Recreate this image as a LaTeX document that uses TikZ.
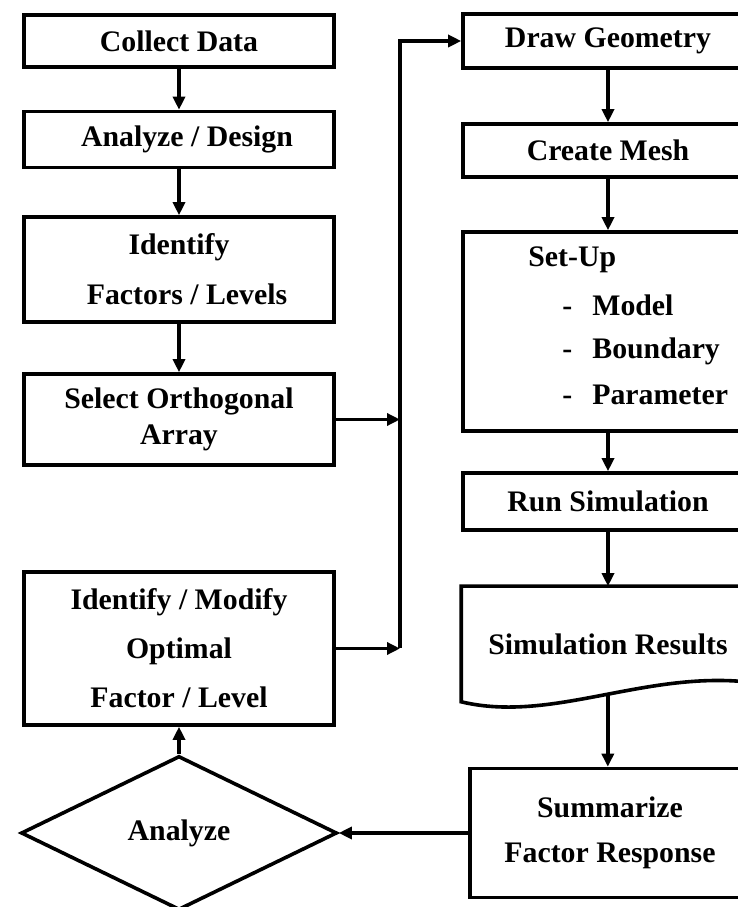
\documentclass[tikz,border=0pt]{standalone}
\usepackage{fontspec}
\setmainfont{Liberation Serif}
\usetikzlibrary{arrows.meta,shapes.geometric}
\tikzset{
  stepbox/.style={draw, line width=1.8pt, font=\bfseries\fontsize{14.9}{18}\selectfont,
                  align=center, inner sep=0pt},
  leftbox/.style={stepbox, minimum width=155pt},
  rightbox/.style={stepbox, minimum width=145pt},
  decision/.style={stepbox, diamond, minimum width=158pt, minimum height=77pt},
  itemtext/.style={font=\bfseries\fontsize{14.9}{18}\selectfont, inner sep=0pt, anchor=west},
  flow/.style={line width=1.8pt, -{Triangle[length=6.5pt,width=6pt]}},
}

\begin{document}
\begin{tikzpicture}[x=0.5pt, y=0.5pt]
    \useasboundingbox (0,0) rectangle (738,907);
    \node[leftbox, minimum height=26pt] (collect) at (179, 866) {Collect Data};
    \node[leftbox, minimum height=28pt] (design) at (179, 767.5) {\hspace{8pt}Analyze / Design};
    \node[leftbox, minimum height=52.5pt] (factors) at (179, 637.5) {Identify\\[7pt]\hspace{8pt}Factors / Levels};
    \node[leftbox, minimum height=45.5pt] (array) at (179, 487.5) {Select Orthogonal\\Array};
    \node[leftbox, minimum height=76.5pt] (optimal) at (179, 258.5) {Identify / Modify\\[6.5pt]Optimal\\[6.5pt]Factor / Level};
    \node[decision] (analyze) at (179, 74) {Analyze};
    \node[rightbox, minimum height=27pt] (geometry) at (608, 866) {Draw Geometry};
    \node[rightbox, minimum height=26.5pt] (mesh) at (608, 756.5) {Create Mesh};
    \node[rightbox, minimum height=99.5pt] (setup) at (608, 575.5) {};
    \node[itemtext] (setuptitle) at (528, 647) {Set-Up};
    \node[itemtext] (setupmodel) at (562, 602) {\makebox[15pt][l]{-}Model};
    \node[itemtext] (setupboundary) at (562, 556) {\makebox[15pt][l]{-}Boundary};
    \node[itemtext] (setupparameter) at (562, 512) {\makebox[15pt][l]{-}Parameter};
    \node[rightbox, minimum height=28.5pt] (run) at (608, 405.5) {Run Simulation};
    \node[rightbox, draw=none, minimum height=56pt] (results) at (608, 263) {Simulation Results};
    \draw[line width=1.8pt] (results.south west) -- (results.north west) -- (results.north east)
      -- ([yshift=9.5pt]results.south east)
      .. controls +(-54pt,7pt) and +(46pt,-11pt) .. (results.south west) coordinate[pos=0.48] (wave) -- cycle;
    \node[stepbox, minimum width=140pt, minimum height=64.5pt] (summary) at (610, 74) {Summarize\\[4.5pt]Factor Response};
    \coordinate (bus) at (400, 487.5);
    \draw[flow] (collect) -- (design);
    \draw[flow] (design) -- (factors);
    \draw[flow] (factors) -- (array);
    \draw[flow] (array) -- (array -| bus);
    \draw[flow] (optimal) -- (optimal -| bus);
    \draw[flow] (optimal -| bus) |- (geometry);
    \draw[flow] (geometry) -- (mesh);
    \draw[flow] (mesh) -- (setup);
    \draw[flow] (setup) -- (run);
    \draw[flow] (run) -- (results);
    \draw[flow] (wave) -- (wave |- summary.north);
    \draw[flow] (summary) -- (analyze);
    \draw[flow] (analyze) -- (optimal);
  \end{tikzpicture}
\end{document}
